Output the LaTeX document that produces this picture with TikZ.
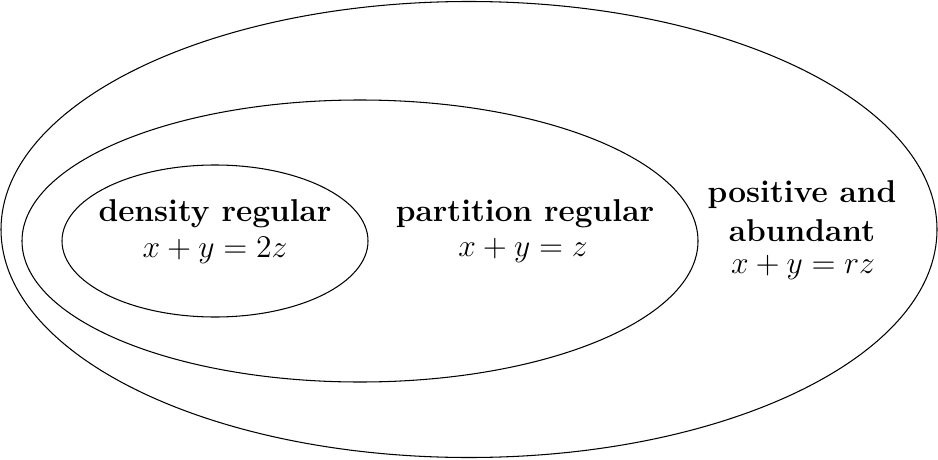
\documentclass[tikz,border=0pt]{standalone}
\usepackage{amsmath}
\begin{document}
\begin{tikzpicture}[x=0.38pt,y=-0.38pt,
  lbl/.style={align=center,inner sep=0pt,font=\fontsize{12pt}{14pt}\selectfont},
  ell/.style={draw,line width=0.4pt}]
\useasboundingbox (0,0) rectangle (938,459);
\draw[ell] (469,229.5) ellipse [x radius=468, y radius=228];
\draw[ell] (360,241) ellipse [x radius=338, y radius=141];
\draw[ell] (215,241) ellipse [x radius=153, y radius=76];
\node[lbl] (d1) at (215,214) {\textbf{density regular}};
\node[lbl] (d2) at (215,250) {$x+y=2z$};
\node[lbl] (p1) at (525,214) {\textbf{partition regular}};
\node[lbl] (p2) at (523,250) {$x+y=z$};
\node[lbl] (a1) at (802,195) {\textbf{positive and}};
\node[lbl] (a2) at (802,231) {\textbf{abundant}};
\node[lbl] (a3) at (803,267) {$x+y=rz$};
\end{tikzpicture}
\end{document}
